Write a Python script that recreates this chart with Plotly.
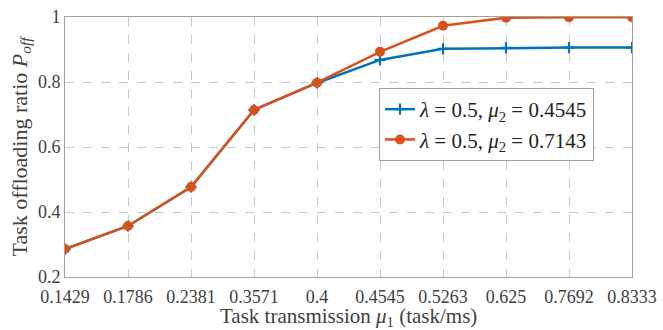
import plotly.graph_objects as go

mu1_labels = ["0.1429", "0.1786", "0.2381", "0.3571", "0.4", "0.4545", "0.5263", "0.625", "0.7692", "0.8333"]
p_off_mu2_04545 = [0.286, 0.357, 0.477, 0.714, 0.797, 0.868, 0.902, 0.905, 0.906, 0.906]
p_off_mu2_07143 = [0.286, 0.357, 0.477, 0.714, 0.798, 0.893, 0.973, 0.998, 0.999, 0.999]
y_ticks = [0.2, 0.4, 0.6, 0.8, 1]
y_ticktext = ["0.2", "0.4", "0.6", "0.8", "1"]
x_title = "Task transmission <i>μ</i><sub>1</sub> (task/ms)"
y_title = "Task offloading ratio <i>P</i><sub><i>off</i></sub>"

FONT = "Liberation Serif"
BLUE = "#0072BD"
ORANGE = "#D95319"
TXT = "#404040"

fig = go.Figure()
fig.add_trace(go.Scatter(
    x=mu1_labels, y=p_off_mu2_04545, mode="lines+markers",
    name="<i>λ</i> = 0.5, <i>μ</i><sub>2</sub> = 0.4545",
    line=dict(color=BLUE, width=2.5),
    marker=dict(symbol="cross-thin", size=8, line=dict(color=BLUE, width=2.2)),
))
fig.add_trace(go.Scatter(
    x=mu1_labels, y=p_off_mu2_07143, mode="lines+markers",
    name="<i>λ</i> = 0.5, <i>μ</i><sub>2</sub> = 0.7143",
    line=dict(color=ORANGE, width=2.5),
    marker=dict(symbol="circle", size=10, color=ORANGE),
))

axis_common = dict(
    showline=True, linecolor="#a0a0a0", linewidth=1, mirror=True,
    showgrid=True, gridcolor="#c8c8c8", griddash="dash", gridwidth=1,
    ticks="", tickfont=dict(family=FONT, size=18, color=TXT),
    zeroline=False, automargin=False,
)

fig.update_layout(
    width=663, height=330,
    margin=dict(l=65, r=31, t=17, b=53),
    paper_bgcolor="white", plot_bgcolor="white",
    font=dict(family=FONT, color=TXT),
    xaxis=dict(**axis_common, type="category", range=[0, 9], ticklabelstandoff=3),
    yaxis=dict(
        **axis_common, range=[0.2, 1], tickvals=y_ticks, ticktext=y_ticktext,
        title=dict(text=y_title, font=dict(family=FONT, size=22, color=TXT), standoff=4),
    ),
    legend=dict(
        x=0.933, y=0.727, xanchor="right", yanchor="top",
        bgcolor="white", bordercolor="#a0a0a0", borderwidth=1,
        font=dict(family=FONT, size=21, color="#222222"),
        tracegroupgap=0, itemwidth=30,
    ),
    showlegend=True,
    annotations=[dict(
        text=x_title, xref="paper", yref="paper", x=0.5, y=0,
        xanchor="center", yanchor="top", yshift=-25, showarrow=False,
        font=dict(family=FONT, size=21, color=TXT),
    )],
)

fig.write_html("out.html", config={"displayModeBar": False},
               post_script="document.body.style.margin='0';document.body.style.padding='0';")
